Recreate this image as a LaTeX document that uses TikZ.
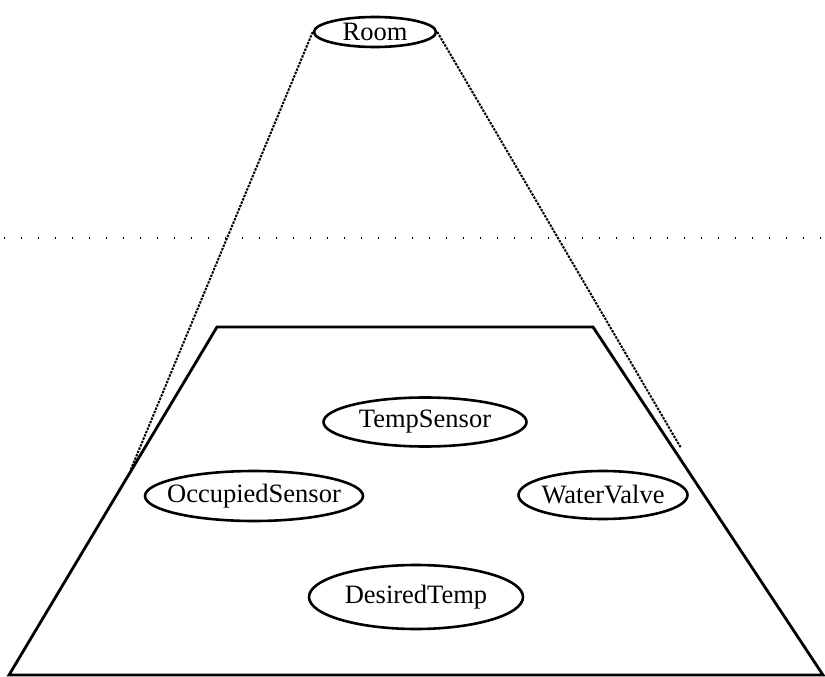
\documentclass[tikz,border=0pt]{standalone}
\usepackage{fontspec}
\setmainfont{Liberation Serif}
\usetikzlibrary{shapes.geometric}
\tikzset{
  % negative inner sep lets the minimum sizes alone fix each ellipse
  obj/.style={ellipse, draw, line width=2.6pt, inner xsep=-60pt, inner ysep=-12pt,
    font=\fontsize{26.5}{30}\selectfont},
  zoomline/.style={line width=2pt, dash pattern=on 2.4pt off 1.2pt},
  horizon/.style={line width=1.4pt, dash pattern=on 1.4pt off 15.6pt},
  plane/.style={line width=2.8pt, line join=miter}
}
\begin{document}
\begin{tikzpicture}[x=1pt,y=-1pt]
  \useasboundingbox (0,0) rectangle (825,677);

  % horizon line
  \coordinate (hl) at (4,238);
  \coordinate (hr) at (825,238);
  \draw[horizon] (hl) -- (hr);

  % the expanded plane
  \coordinate (tl) at (217,327);
  \coordinate (tr) at (593,327);
  \coordinate (br) at (823,675);
  \coordinate (bl) at (9,675);
  \draw[plane] (tl) -- (tr) -- (br) -- (bl) -- cycle;

  % composite object
  \node[obj, minimum width=122pt, minimum height=30pt] (room) at (375,32) {Room};

  % its components
  \node[obj, minimum width=203pt, minimum height=49pt] (temp) at (425,422) {TempSensor};
  \node[obj, minimum width=218pt, minimum height=50pt] (occ) at (254,496) {OccupiedSensor};
  \node[obj, minimum width=169pt, minimum height=48pt] (valve) at (603,495) {WaterValve};
  \node[obj, minimum width=214pt, minimum height=64pt] (desired) at (416,597) {DesiredTemp};

  % projection lines from the composite down to the plane
  \coordinate (pl) at (131,469);
  \coordinate (pr) at (681,448);
  \draw[zoomline] (room.west) -- (pl);
  \draw[zoomline] (room.east) -- (pr);
\end{tikzpicture}
\end{document}
